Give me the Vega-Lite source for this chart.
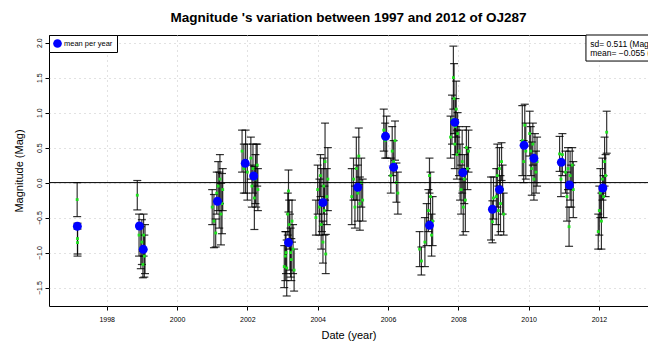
{
  "$schema": "https://vega.github.io/schema/vega-lite/v6.json",
  "width": 599,
  "height": 271,
  "autosize": {"type": "none"},
  "padding": {"left": 49, "top": 35, "right": 0, "bottom": 37},
  "background": "white",
  "config": {
    "font": "Liberation Sans",
    "view": {"stroke": "black", "strokeWidth": 1},
    "axis": {
      "grid": true, "gridColor": "#c4c4c4", "gridDash": [1, 4], "gridWidth": 1,
      "domain": false, "tickColor": "#000000", "tickSize": 4, "tickWidth": 1,
      "labelFontSize": 7, "labelColor": "#000000", "labelFlush": false, "labelOverlap": false,
      "titleFontSize": 11, "titleFontWeight": "normal", "titleColor": "#000000"
    },
    "axisX": {"labelPadding": 5, "titlePadding": 7},
    "axisY": {"labelPadding": 3, "titlePadding": 11},
    "legend": {
      "orient": "top-left", "offset": 0, "padding": 4,
      "strokeColor": "black", "fillColor": "white", "cornerRadius": 0,
      "labelFontSize": 7.5, "labelFont": "Liberation Sans", "labelColor": "black",
      "symbolSize": 75, "symbolType": "circle", "labelOffset": 2, "symbolStrokeWidth": 0
    }
  },
  "title": {
    "text": "Magnitude 's variation between 1997 and 2012 of OJ287",
    "fontSize": 13.5, "fontWeight": "bold", "font": "Liberation Sans", "color": "black",
    "anchor": "middle", "frame": "group", "offset": 10
  },
  "datasets": {
    "obs": [
      {"year": 1997.16, "mag": -0.243, "err": 0.243},
      {"year": 1997.17, "mag": -0.80, "err": 0.22},
      {"year": 1997.17, "mag": -0.857, "err": 0.193},
      {"year": 1998.87, "mag": -0.18, "err": 0.21},
      {"year": 1998.92, "mag": -0.75, "err": 0.3},
      {"year": 1998.97, "mag": -0.93, "err": 0.3},
      {"year": 1999.00, "mag": -0.85, "err": 0.32},
      {"year": 1999.03, "mag": -1.17, "err": 0.19},
      {"year": 1999.05, "mag": -0.75, "err": 0.3},
      {"year": 1999.07, "mag": -1.05, "err": 0.3},
      {"year": 1999.09, "mag": -0.95, "err": 0.35},
      {"year": 2001.00, "mag": -0.35, "err": 0.25},
      {"year": 2001.05, "mag": -0.55, "err": 0.38},
      {"year": 2001.10, "mag": -0.72, "err": 0.2},
      {"year": 2001.13, "mag": -0.15, "err": 0.3},
      {"year": 2001.17, "mag": -0.05, "err": 0.35},
      {"year": 2001.20, "mag": -0.25, "err": 0.4},
      {"year": 2001.22, "mag": 0.05, "err": 0.35},
      {"year": 2001.25, "mag": -0.45, "err": 0.44},
      {"year": 2001.28, "mag": -0.30, "err": 0.43},
      {"year": 2001.30, "mag": -0.10, "err": 0.3},
      {"year": 2001.85, "mag": 0.45, "err": 0.3},
      {"year": 2001.90, "mag": 0.20, "err": 0.35},
      {"year": 2001.95, "mag": 0.30, "err": 0.45},
      {"year": 2002.00, "mag": 0.15, "err": 0.4},
      {"year": 2002.10, "mag": 0.35, "err": 0.3},
      {"year": 2002.13, "mag": -0.05, "err": 0.3},
      {"year": 2002.16, "mag": 0.20, "err": 0.35},
      {"year": 2002.20, "mag": -0.22, "err": 0.45},
      {"year": 2002.23, "mag": 0.05, "err": 0.35},
      {"year": 2002.25, "mag": 0.10, "err": 0.45},
      {"year": 2002.28, "mag": 0.25, "err": 0.3},
      {"year": 2002.30, "mag": -0.10, "err": 0.3},
      {"year": 2003.05, "mag": -1.20, "err": 0.3},
      {"year": 2003.08, "mag": -1.05, "err": 0.35},
      {"year": 2003.10, "mag": -1.00, "err": 0.3},
      {"year": 2003.12, "mag": -1.22, "err": 0.4},
      {"year": 2003.15, "mag": -0.45, "err": 0.3},
      {"year": 2003.17, "mag": -0.12, "err": 0.3},
      {"year": 2003.19, "mag": -0.60, "err": 0.35},
      {"year": 2003.21, "mag": -0.85, "err": 0.4},
      {"year": 2003.23, "mag": -1.00, "err": 0.35},
      {"year": 2003.25, "mag": -1.10, "err": 0.3},
      {"year": 2003.27, "mag": -0.55, "err": 0.3},
      {"year": 2003.30, "mag": -0.95, "err": 0.35},
      {"year": 2003.33, "mag": -1.25, "err": 0.3},
      {"year": 2003.95, "mag": -0.50, "err": 0.25},
      {"year": 2004.00, "mag": -0.10, "err": 0.35},
      {"year": 2004.05, "mag": -0.35, "err": 0.4},
      {"year": 2004.08, "mag": 0.10, "err": 0.3},
      {"year": 2004.10, "mag": -0.60, "err": 0.35},
      {"year": 2004.12, "mag": -0.25, "err": 0.45},
      {"year": 2004.15, "mag": -0.85, "err": 0.3},
      {"year": 2004.17, "mag": -0.05, "err": 0.4},
      {"year": 2004.19, "mag": -0.40, "err": 0.35},
      {"year": 2004.21, "mag": 0.30, "err": 0.55},
      {"year": 2004.23, "mag": -1.02, "err": 0.28},
      {"year": 2004.26, "mag": -0.20, "err": 0.4},
      {"year": 2004.29, "mag": 0.05, "err": 0.45},
      {"year": 2004.97, "mag": -0.20, "err": 0.4},
      {"year": 2005.02, "mag": 0.05, "err": 0.3},
      {"year": 2005.06, "mag": -0.35, "err": 0.3},
      {"year": 2005.10, "mag": 0.20, "err": 0.45},
      {"year": 2005.14, "mag": -0.15, "err": 0.4},
      {"year": 2005.17, "mag": 0.38, "err": 0.4},
      {"year": 2005.20, "mag": -0.30, "err": 0.38},
      {"year": 2005.24, "mag": 0.00, "err": 0.35},
      {"year": 2005.28, "mag": -0.25, "err": 0.3},
      {"year": 2005.88, "mag": 0.75, "err": 0.3},
      {"year": 2005.92, "mag": 0.60, "err": 0.25},
      {"year": 2005.96, "mag": 0.65, "err": 0.3},
      {"year": 2006.08, "mag": 0.10, "err": 0.25},
      {"year": 2006.12, "mag": 0.45, "err": 0.35},
      {"year": 2006.16, "mag": 0.30, "err": 0.3},
      {"year": 2006.20, "mag": 0.60, "err": 0.28},
      {"year": 2006.24, "mag": 0.00, "err": 0.28},
      {"year": 2006.28, "mag": -0.15, "err": 0.3},
      {"year": 2006.90, "mag": -0.95, "err": 0.25},
      {"year": 2006.95, "mag": -1.12, "err": 0.2},
      {"year": 2007.05, "mag": -0.85, "err": 0.35},
      {"year": 2007.10, "mag": -0.60, "err": 0.3},
      {"year": 2007.15, "mag": -0.40, "err": 0.3},
      {"year": 2007.18, "mag": 0.10, "err": 0.25},
      {"year": 2007.21, "mag": -0.20, "err": 0.35},
      {"year": 2007.24, "mag": -0.75, "err": 0.3},
      {"year": 2007.27, "mag": -0.55, "err": 0.35},
      {"year": 2007.78, "mag": 0.65, "err": 0.3},
      {"year": 2007.82, "mag": 0.90, "err": 0.35},
      {"year": 2007.86, "mag": 1.50, "err": 0.45},
      {"year": 2007.88, "mag": 1.20, "err": 0.5},
      {"year": 2007.90, "mag": 0.55, "err": 0.35},
      {"year": 2007.92, "mag": 0.80, "err": 0.4},
      {"year": 2007.94, "mag": 1.05, "err": 0.4},
      {"year": 2007.96, "mag": 0.40, "err": 0.35},
      {"year": 2007.98, "mag": 0.70, "err": 0.3},
      {"year": 2008.02, "mag": 0.45, "err": 0.35},
      {"year": 2008.05, "mag": 0.15, "err": 0.4},
      {"year": 2008.08, "mag": -0.10, "err": 0.35},
      {"year": 2008.11, "mag": 0.30, "err": 0.45},
      {"year": 2008.14, "mag": -0.35, "err": 0.4},
      {"year": 2008.17, "mag": 0.05, "err": 0.35},
      {"year": 2008.20, "mag": -0.25, "err": 0.45},
      {"year": 2008.23, "mag": 0.50, "err": 0.3},
      {"year": 2008.26, "mag": 0.20, "err": 0.3},
      {"year": 2008.29, "mag": 0.45, "err": 0.3},
      {"year": 2008.93, "mag": -0.37, "err": 0.45},
      {"year": 2008.97, "mag": -0.56, "err": 0.3},
      {"year": 2009.00, "mag": -0.22, "err": 0.3},
      {"year": 2009.08, "mag": -0.20, "err": 0.4},
      {"year": 2009.11, "mag": 0.10, "err": 0.45},
      {"year": 2009.14, "mag": -0.40, "err": 0.35},
      {"year": 2009.17, "mag": 0.20, "err": 0.3},
      {"year": 2009.20, "mag": -0.30, "err": 0.4},
      {"year": 2009.23, "mag": 0.30, "err": 0.27},
      {"year": 2009.26, "mag": -0.10, "err": 0.35},
      {"year": 2009.29, "mag": -0.45, "err": 0.3},
      {"year": 2009.82, "mag": 0.60, "err": 0.5},
      {"year": 2009.86, "mag": 0.30, "err": 0.3},
      {"year": 2009.89, "mag": 0.82, "err": 0.3},
      {"year": 2009.92, "mag": 0.45, "err": 0.4},
      {"year": 2010.03, "mag": 0.70, "err": 0.32},
      {"year": 2010.06, "mag": 0.45, "err": 0.35},
      {"year": 2010.09, "mag": 0.20, "err": 0.38},
      {"year": 2010.12, "mag": 0.55, "err": 0.3},
      {"year": 2010.15, "mag": 0.05, "err": 0.3},
      {"year": 2010.18, "mag": 0.35, "err": 0.35},
      {"year": 2010.21, "mag": 0.15, "err": 0.3},
      {"year": 2010.24, "mag": 0.30, "err": 0.35},
      {"year": 2010.88, "mag": 0.41, "err": 0.25},
      {"year": 2010.92, "mag": 0.05, "err": 0.25},
      {"year": 2010.96, "mag": 0.40, "err": 0.3},
      {"year": 2011.05, "mag": 0.15, "err": 0.3},
      {"year": 2011.09, "mag": -0.20, "err": 0.35},
      {"year": 2011.12, "mag": 0.20, "err": 0.3},
      {"year": 2011.15, "mag": -0.63, "err": 0.28},
      {"year": 2011.18, "mag": 0.10, "err": 0.35},
      {"year": 2011.21, "mag": -0.05, "err": 0.3},
      {"year": 2011.24, "mag": 0.25, "err": 0.25},
      {"year": 2011.27, "mag": -0.10, "err": 0.4},
      {"year": 2011.98, "mag": -0.70, "err": 0.25},
      {"year": 2012.01, "mag": -0.40, "err": 0.35},
      {"year": 2012.04, "mag": -0.15, "err": 0.35},
      {"year": 2012.07, "mag": -0.55, "err": 0.4},
      {"year": 2012.10, "mag": 0.05, "err": 0.3},
      {"year": 2012.13, "mag": -0.20, "err": 0.3},
      {"year": 2012.16, "mag": 0.30, "err": 0.35},
      {"year": 2012.19, "mag": 0.10, "err": 0.3},
      {"year": 2012.22, "mag": 0.72, "err": 0.3}
    ],
    "means": [
      {"year": 1997.165, "mag": -0.624},
      {"year": 1998.93, "mag": -0.62},
      {"year": 1999.04, "mag": -0.953},
      {"year": 2001.15, "mag": -0.267},
      {"year": 2001.94, "mag": 0.276},
      {"year": 2002.18, "mag": 0.094},
      {"year": 2003.17, "mag": -0.857},
      {"year": 2004.15, "mag": -0.286},
      {"year": 2005.14, "mag": -0.067},
      {"year": 2005.93, "mag": 0.661},
      {"year": 2006.16, "mag": 0.219},
      {"year": 2007.18, "mag": -0.61},
      {"year": 2007.90, "mag": 0.861},
      {"year": 2008.13, "mag": 0.143},
      {"year": 2008.97, "mag": -0.381},
      {"year": 2009.17, "mag": -0.10},
      {"year": 2009.87, "mag": 0.533},
      {"year": 2010.15, "mag": 0.347},
      {"year": 2010.93, "mag": 0.29},
      {"year": 2011.16, "mag": -0.034},
      {"year": 2012.11, "mag": -0.077}
    ],
    "box": [
      {"year": 2011.63, "year2": 2014.5, "mag": 2.109, "mag2": 1.737}
    ],
    "notes": [
      {"year": 2011.75, "mag": 1.986, "label": "sd= 0.511 (Mag)"},
      {"year": 2011.75, "mag": 1.851, "label": "mean= \u22120.055 (Mag)"}
    ]
  },
  "layer": [
    {
      "data": {"name": "obs"},
      "mark": {"type": "errorbar", "color": "black", "opacity": 0.8, "thickness": 1.2, "size": 8, "ticks": true},
      "encoding": {
        "x": {
          "field": "year", "type": "quantitative", "title": "Date (year)",
          "scale": {"domain": [1996.359, 2013.395], "nice": false, "zero": false},
          "axis": {"values": [1998, 2000, 2002, 2004, 2006, 2008, 2010, 2012], "format": "d", "tickCount": 20}
        },
        "y": {
          "field": "mag", "type": "quantitative", "title": "Magnitude (Mag)",
          "scale": {"domain": [-1.763, 2.109], "nice": false, "zero": false},
          "axis": {
            "values": [-1.5, -1, -0.5, 0, 0.5, 1, 1.5, 2], "format": ".1f", "tickCount": 20,
            "labelAngle": -90, "labelAlign": "center", "labelBaseline": "bottom"
          }
        },
        "yError": {"field": "err"}
      }
    },
    {
      "data": {"name": "obs"},
      "mark": {"type": "point", "shape": "square", "filled": true, "size": 8, "color": "#1ee01e", "opacity": 1},
      "encoding": {
        "x": {"field": "year", "type": "quantitative", "title": "Date (year)"},
        "y": {"field": "mag", "type": "quantitative", "title": "Magnitude (Mag)"}
      }
    },
    {
      "data": {"values": [{}]},
      "mark": {"type": "rule", "color": "black", "strokeWidth": 1},
      "encoding": {
        "y": {"datum": 0, "type": "quantitative", "title": "Magnitude (Mag)"}
      }
    },
    {
      "data": {"name": "box"},
      "mark": {"type": "rect", "fill": "white", "stroke": "black", "strokeWidth": 1},
      "encoding": {
        "x": {"field": "year", "type": "quantitative", "title": "Date (year)"},
        "x2": {"field": "year2"},
        "y": {"field": "mag", "type": "quantitative", "title": "Magnitude (Mag)"},
        "y2": {"field": "mag2"}
      }
    },
    {
      "data": {"name": "notes"},
      "mark": {"type": "text", "align": "left", "baseline": "middle", "fontSize": 8.5, "color": "black", "font": "Liberation Sans"},
      "encoding": {
        "x": {"field": "year", "type": "quantitative", "title": "Date (year)"},
        "y": {"field": "mag", "type": "quantitative", "title": "Magnitude (Mag)"},
        "text": {"field": "label"}
      }
    },
    {
      "data": {"name": "means"},
      "mark": {"type": "point", "shape": "circle", "filled": true, "size": 80, "opacity": 1},
      "encoding": {
        "x": {"field": "year", "type": "quantitative", "title": "Date (year)"},
        "y": {"field": "mag", "type": "quantitative", "title": "Magnitude (Mag)"},
        "color": {
          "datum": "mean per year", "type": "nominal",
          "scale": {"range": ["#0000ff"]},
          "legend": {"title": null}
        }
      }
    }
  ]
}
